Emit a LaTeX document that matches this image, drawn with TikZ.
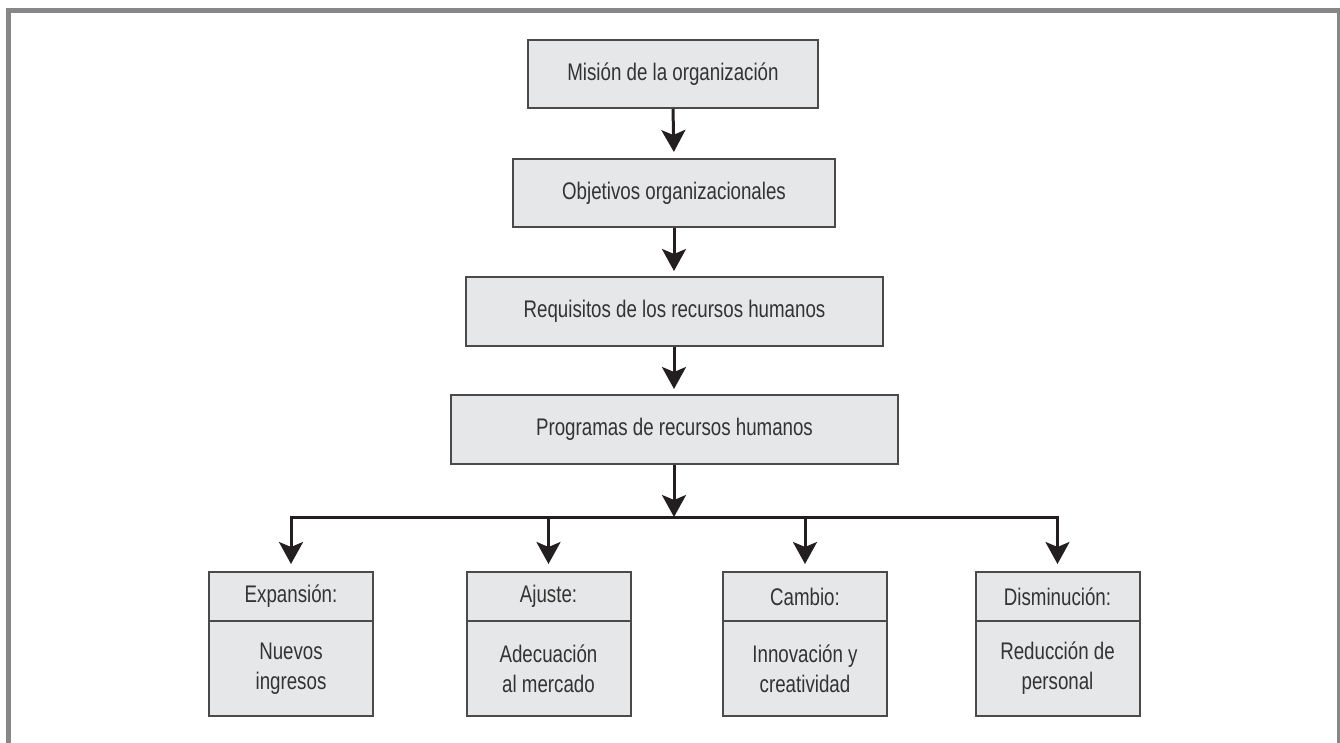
\documentclass[tikz,border=0pt]{standalone}
\usepackage{fontspec}
\setmainfont{Liberation Sans}[FakeStretch=0.78]
\usetikzlibrary{arrows.meta}
\definecolor{boxfill}{HTML}{E6E7E8}
\definecolor{boxline}{HTML}{4A4A4A}
\definecolor{frameg}{HTML}{87878A}
\definecolor{txt}{HTML}{333333}
\definecolor{connc}{HTML}{231F20}
\tikzset{
  box/.style={draw=boxline, line width=1pt, fill=boxfill, text=txt,
    font=\fontsize{12}{15}\selectfont, inner sep=0pt, align=center},
  topbox/.style={box, minimum height=34pt},
  leafw/.style={box, minimum width=82pt},
  leafhead/.style={leafw, minimum height=24.5pt},
  leafbody/.style={leafw, minimum height=47.5pt},
  connarrow/.style={draw=connc, line width=1.5pt,
    -{Stealth[length=11pt,width=12pt,inset=2.5pt]}},
  connline/.style={draw=connc, line width=1.5pt, line cap=rect},
  framestyle/.style={draw=frameg, line width=2.5pt}
}
\begin{document}
\begin{tikzpicture}[x=0.5pt,y=-0.5pt]
\useasboundingbox (0,0) rectangle (1340,743);
\clip (0,0) rectangle (1340,743);
\draw[framestyle] (8.5,760) -- (8.5,10.5) -- (1339.5,10.5) -- (1339.5,760);

\node[topbox, minimum width=145pt] (m1) at (673,74) {Misión de la organización};
\node[topbox, minimum width=161pt] (m2) at (674,193) {Objetivos organizacionales};
\node[topbox, minimum width=208.5pt, minimum height=34.5pt] (m3) at (674.5,311.5) {Requisitos de los recursos humanos};
\node[topbox, minimum width=223.5pt, minimum height=34.5pt] (m4) at (674.5,429.5) {Programas de recursos humanos};

\draw[connarrow, shorten >=3pt] (m1.south) -- (m2.north);
\draw[connarrow, shorten >=2.5pt] (m2.south) -- (m3.north -| m2.south);
\draw[connarrow, shorten >=2.5pt] (m3.south -| m2.south) -- (m4.north -| m2.south);

\coordinate (j) at (674,517);
\coordinate (b1) at (291,517);
\coordinate (b2) at (548.5,517);
\coordinate (b3) at (805,517);
\coordinate (b4) at (1057.5,517);

\draw[connarrow] (m4.south -| j) -- (j);
\draw[connline] (b1) -- (b4);

\node[leafhead] (h1) at (291,596.5) {Expansión:};
\node[leafbody] (d1) at (291,668.5) {Nuevos\\ingresos};
\node[leafhead] (h2) at (548.5,596.5) {Ajuste:};
\node[leafbody] (d2) at (548.5,668.5) {Adecuación\\al mercado};
\node[leafhead] (h3) at (805,596.5) {Cambio:};
\node[leafbody] (d3) at (805,668.5) {Innovación y\\creatividad};
\node[leafhead] (h4) at (1057.5,596.5) {Disminución:};
\node[leafbody] (d4) at (1057.5,668.5) {Reducción de\\personal};

\draw[connarrow, shorten >=3.5pt] (b1) -- (h1.north);
\draw[connarrow, shorten >=3.5pt] (b2) -- (h2.north);
\draw[connarrow, shorten >=3.5pt] (b3) -- (h3.north);
\draw[connarrow, shorten >=3.5pt] (b4) -- (h4.north);
\end{tikzpicture}
\end{document}
